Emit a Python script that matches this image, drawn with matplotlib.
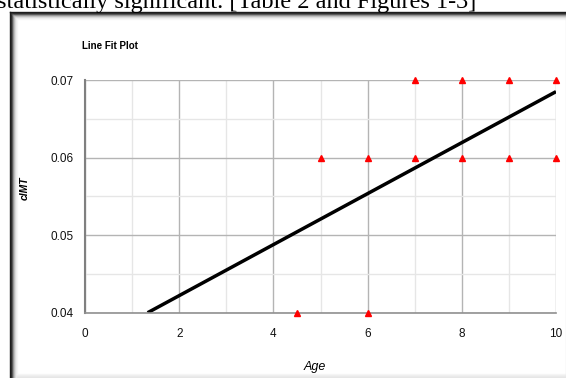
import matplotlib.pyplot as plt
from matplotlib.lines import Line2D
from matplotlib.ticker import MultipleLocator

# data
age = [7, 8, 9, 10, 5, 6, 7, 8, 9, 10, 4.5, 6]
cimt = [0.07, 0.07, 0.07, 0.07, 0.06, 0.06, 0.06, 0.06, 0.06, 0.06, 0.04, 0.04]
fit_x = [1.33, 10]
fit_y = [0.04, 0.0685]
x_ticks = [0, 2, 4, 6, 8, 10]
y_ticks = [0.04, 0.05, 0.06, 0.07]

W, H = 566, 378
fig = plt.figure(figsize=(W / 100, H / 100), dpi=100)
sans = ["Liberation Sans", "DejaVu Sans"]

# caption text cut off at the top of the screenshot
fig.text(-3 / W, 1 - 8 / H, "statistically significant. [Table 2 and Figures 1-3]",
         family="Liberation Serif", fontsize=17.5, ha="left", va="baseline")

# frame with a shadow on the left/top
for i, g in enumerate([0.1, 0.15, 0.3, 0.55, 0.72, 0.84, 0.92, 0.96]):
    fig.add_artist(Line2D([(9.5 + i) / W, (9.5 + i) / W], [0, 1 - (11.5 + i) / H],
                          transform=fig.transFigure, color=str(g), lw=1))
    fig.add_artist(Line2D([(9.5 + i) / W, 1], [1 - (11.5 + i) / H, 1 - (11.5 + i) / H],
                          transform=fig.transFigure, color=str(g), lw=1))
for i, g in enumerate([0.97, 0.94, 0.92, 0.9]):
    fig.add_artist(Line2D([17 / W, 1], [(4.5 - i) / H, (4.5 - i) / H],
                          transform=fig.transFigure, color=str(g), lw=1))
fig.add_artist(Line2D([(W - 0.5) / W, (W - 0.5) / W], [0, 1 - 19 / H],
                      transform=fig.transFigure, color="0.9", lw=1))

ax = fig.add_axes([85 / W, 1 - 312.7 / H, 471 / W, 232.7 / H])
ax.set_xlim(0, 10)
ax.set_ylim(0.04, 0.07)
ax.xaxis.set_major_locator(MultipleLocator(2))
ax.xaxis.set_minor_locator(MultipleLocator(1))
ax.yaxis.set_major_locator(MultipleLocator(0.01))
ax.yaxis.set_minor_locator(MultipleLocator(0.005))
ax.grid(which="major", color="#b4b4b4", lw=1)
ax.grid(which="minor", color="#e6e6e6", lw=1)
ax.set_axisbelow(True)
for s in ["top", "right"]:
    ax.spines[s].set_visible(False)
ax.spines["left"].set_color("#808080")
ax.spines["left"].set_linewidth(1.5)
ax.spines["bottom"].set_color("#909090")
ax.spines["bottom"].set_linewidth(1.2)
ax.tick_params(which="both", length=0, labelsize=8.5, labelcolor="#111111")
ax.tick_params(axis="x", pad=11)
ax.tick_params(axis="y", pad=8)
ax.set_xticks(x_ticks)
ax.set_xticklabels([str(t) for t in x_ticks], family=sans)
ax.set_yticks(y_ticks)
ax.set_yticklabels([f"{t:.2f}" for t in y_ticks], family=sans)

ax.plot(fit_x, fit_y, color="black", lw=2.5, solid_capstyle="butt")
ax.plot(age, cimt, ls="none", marker="^", ms=5, color="red", clip_on=False, zorder=5)

ax.set_xlabel("Age", family=sans, style="italic", fontsize=9)
ax.xaxis.set_label_coords((315 - 85) / 471, -(361 - 312.7) / 232.7)
ax.set_ylabel("cIMT", family=sans, style="italic", weight="bold", fontsize=7.5)
ax.yaxis.set_label_coords((30 - 85) / 471, (312.7 - 188) / 232.7)
fig.text(82 / W, 1 - 46 / H, "Line Fit Plot", family=sans, weight="bold",
         fontsize=7, ha="left", va="center")

fig.savefig("out.png", dpi=100)
